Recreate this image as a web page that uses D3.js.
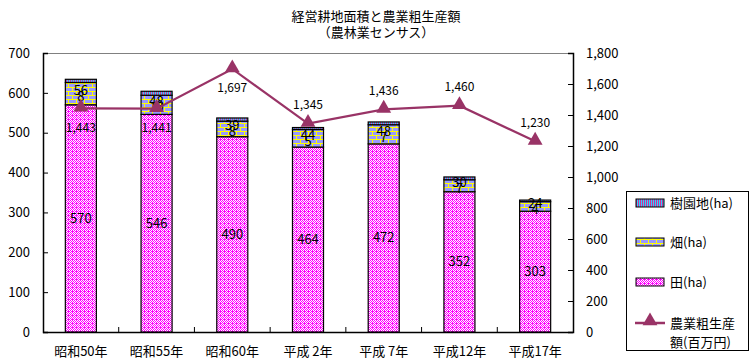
<!DOCTYPE html>
<html><head><meta charset="utf-8">
<script src="https://cdn.jsdelivr.net/npm/d3@7"></script>
<style>
html,body{margin:0;padding:0;background:#fff;}
text{font-family:"Noto Sans CJK JP","Noto Sans",sans-serif;}
</style></head>
<body><svg id="c" width="752" height="364"></svg>
<script>
const categories = ["昭和50年","昭和55年","昭和60年","平成 2年","平成 7年","平成12年","平成17年"];
const ta = [570,546,490,464,472,352,303];        // 田(ha)
const hatake = [56,48,39,44,48,30,24];           // 畑(ha)
const juen = [8,10,8,5,7,7,4];                    // 樹園地(ha)
const output = [1443,1441,1697,1345,1436,1460,1230]; // 農業粗生産額(百万円)
const leftTicks = [0,100,200,300,400,500,600,700];
const rightTicks = [0,200,400,600,800,1000,1200,1400,1600,1800];
const titleLines = ["経営耕地面積と農業粗生産額","（農林業センサス）"];
const legendLabels = ["樹園地(ha)","畑(ha)","田(ha)","農業粗生産額(百万円)"];

const svg = d3.select("#c");
const defs = svg.append("defs");
// 田 pattern: magenta checker dither
const p1 = defs.append("pattern").attr("id","pTa").attr("width",4).attr("height",4).attr("patternUnits","userSpaceOnUse");
p1.append("rect").attr("width",4).attr("height",4).attr("fill","#ff00ff");
[[1,0],[3,0],[0,1],[2,1],[1,2],[3,2],[2,3]].forEach(([x,y])=>p1.append("rect").attr("x",x).attr("y",y).attr("width",1).attr("height",1).attr("fill","#ffffff"));
// 畑 pattern: brick
const p2 = defs.append("pattern").attr("id","pHa").attr("width",8).attr("height",8).attr("patternUnits","userSpaceOnUse");
p2.append("rect").attr("width",8).attr("height",8).attr("fill","#9999ff");
p2.append("rect").attr("x",0).attr("y",3).attr("width",8).attr("height",1).attr("fill","#ffff00");
p2.append("rect").attr("x",0).attr("y",7).attr("width",8).attr("height",1).attr("fill","#ffff00");
p2.append("rect").attr("x",0).attr("y",0).attr("width",1).attr("height",3).attr("fill","#ffff00");
p2.append("rect").attr("x",4).attr("y",4).attr("width",1).attr("height",3).attr("fill","#ffff00");
// 樹園地 pattern: vertical stripes
const p3 = defs.append("pattern").attr("id","pJu").attr("width",2).attr("height",2).attr("patternUnits","userSpaceOnUse");
p3.append("rect").attr("width",2).attr("height",2).attr("fill","#33ccff");
p3.append("rect").attr("width",1).attr("height",2).attr("fill","#cc3399");

const L=43, R=573, T=53, B=332;
const x = d3.scaleBand().domain(categories).range([L,R]).padding(0);
const yL = d3.scaleLinear().domain([0,700]).range([B,T]);
const yR = d3.scaleLinear().domain([0,1800]).range([B,T]);
const bw = x.bandwidth()*0.41;

// title
svg.selectAll(".title").data(titleLines).enter().append("text")
  .attr("x",376).attr("y",(d,i)=>21+i*16).attr("text-anchor","middle")
  .attr("font-size",13).attr("fill","#000").text(d=>d);

// top border
svg.append("line").attr("x1",L).attr("x2",R).attr("y1",T+0.5).attr("y2",T+0.5).attr("stroke","#808080").attr("stroke-width",1);

// axes
const gL = svg.append("g").attr("transform",`translate(${L},0)`)
  .call(d3.axisLeft(yL).tickValues(leftTicks).tickSize(-5).tickPadding(13).tickFormat(d3.format("d")));
const gR = svg.append("g").attr("transform",`translate(${R},0)`)
  .call(d3.axisRight(yR).tickValues(rightTicks).tickSize(-5).tickPadding(13).tickFormat(d3.format(",")));
const gB = svg.append("g").attr("transform",`translate(0,${B})`)
  .call(d3.axisBottom(x).tickSize(0).tickPadding(15));
[gL,gR,gB].forEach(g=>{
  g.select(".domain").attr("stroke","#000").attr("stroke-width",1.5);
  g.selectAll(".tick line").attr("stroke","#000");
  g.selectAll("text").attr("font-size",13).attr("fill","#000").style("font-family",'"Noto Sans CJK JP",sans-serif');
});
gB.select(".domain").attr("d",`M${L},0.5H${R}`);
// inside category ticks at boundaries
svg.append("g").selectAll("line").data(categories.slice(1)).enter().append("line")
  .attr("x1",d=>x(d)).attr("x2",d=>x(d)).attr("y1",B).attr("y2",B-5).attr("stroke","#000");

// bars
const bars = svg.append("g");
categories.forEach((c,i)=>{
  const cx = x(c)+x.bandwidth()/2;
  const segs = [
    {v0:0, v1:ta[i], fill:"url(#pTa)"},
    {v0:ta[i], v1:ta[i]+hatake[i], fill:"url(#pHa)"},
    {v0:ta[i]+hatake[i], v1:ta[i]+hatake[i]+juen[i], fill:"url(#pJu)"}
  ];
  segs.forEach(s=>{
    bars.append("rect").attr("x",cx-bw/2).attr("width",bw)
      .attr("y",yL(s.v1)).attr("height",yL(s.v0)-yL(s.v1))
      .attr("fill",s.fill).attr("stroke","#000").attr("stroke-width",1.2);
  });
});

// bar labels
const lab = svg.append("g").attr("font-size",13).attr("fill","#000").attr("text-anchor","middle");
categories.forEach((c,i)=>{
  const cx = x(c)+x.bandwidth()/2;
  lab.append("text").attr("x",cx).attr("y",yL(ta[i]/2)).attr("dy","0.35em").text(ta[i]);
  const hc = yL(ta[i]+hatake[i]/2);
  lab.append("text").attr("x",cx).attr("y",hc-3).attr("dy","0.35em").text(hatake[i]);
  lab.append("text").attr("x",cx).attr("y",hc+3).attr("dy","0.35em").text(juen[i]);
});

// line
const lineColor = "#993366";
const line = d3.line().x((d,i)=>x(categories[i])+x.bandwidth()/2).y(d=>yR(d));
svg.append("path").datum(output).attr("d",line).attr("fill","none").attr("stroke",lineColor).attr("stroke-width",2.2);
const tri = d3.symbol().type(d3.symbolTriangle).size(95);
svg.append("g").selectAll("path").data(output).enter().append("path")
  .attr("d",tri).attr("transform",(d,i)=>`translate(${x(categories[i])+x.bandwidth()/2},${yR(d)-1})`)
  .attr("fill",lineColor);
svg.append("g").attr("font-size",12).attr("text-anchor","middle").selectAll("text").data(output).enter().append("text")
  .attr("x",(d,i)=>x(categories[i])+x.bandwidth()/2)
  .attr("y",(d,i)=>yR(d)+(i<3?19:-19)).attr("dy","0.35em")
  .text(d=>d3.format(",")(d));

// legend
const lg = svg.append("g");
lg.append("rect").attr("x",626.5).attr("y",191.5).attr("width",122).attr("height",159).attr("fill","#fff").attr("stroke","#000");
const swFills = ["url(#pJu)","url(#pHa)","url(#pTa)"];
const rowY = [203,242,282];
swFills.forEach((f,i)=>{
  lg.append("rect").attr("x",636).attr("y",rowY[i]-4).attr("width",28).attr("height",8).attr("fill",f).attr("stroke","#000");
  lg.append("text").attr("x",670).attr("y",rowY[i]).attr("dy","0.35em").attr("font-size",13).text(legendLabels[i]);
});
lg.append("line").attr("x1",635).attr("x2",665).attr("y1",323).attr("y2",323).attr("stroke",lineColor).attr("stroke-width",2.5);
lg.append("path").attr("d",tri).attr("transform","translate(650,321)").attr("fill",lineColor);
lg.append("text").attr("x",670).attr("y",323).attr("dy","0.35em").attr("font-size",13).text(legendLabels[3].slice(0,5));
lg.append("text").attr("x",670).attr("y",342).attr("dy","0.35em").attr("font-size",13).text(legendLabels[3].slice(5));
</script></body></html>
